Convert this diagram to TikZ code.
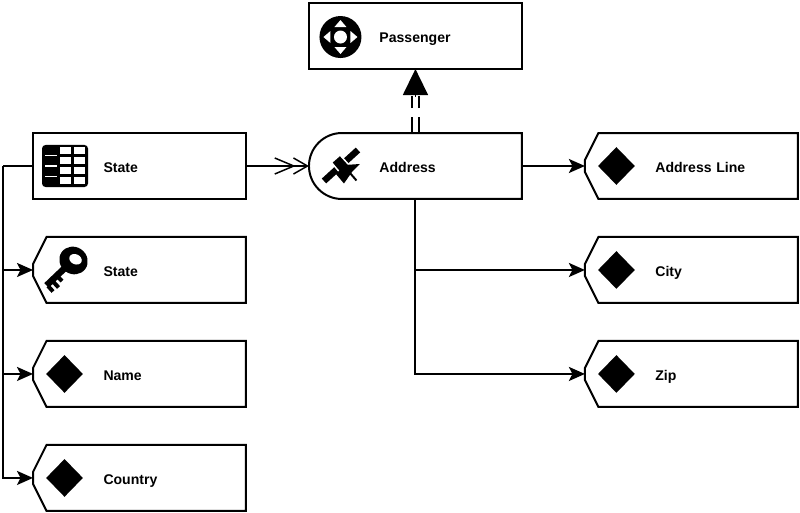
\documentclass[tikz,border=0pt]{standalone}
\usepackage{fontspec}
\setmainfont{Liberation Sans}
\usepackage{tikz}
\usetikzlibrary{positioning,arrows.meta,shapes.geometric}

\tikzset{
	keyicon/.pic={
		\fill[black, rotate around={-35:(40.5,-9.5)}] (40.5,-9.5) ellipse (14.5 and 13.5);
		\fill[white, rotate around={-25:(42.5,-10.7)}] (42.5,-10.7) ellipse (6.5 and 5);
		\draw[black, line width=0.13cm] (35,-5) -- (13.5,15.5);
		\draw[black, line width=0.08cm] (15,16) -- (20,21.5);
		\draw[black, line width=0.08cm] (20,11.5) -- (25.5,17.5);
		\draw[black, line width=0.08cm] (25,7) -- (29,11);
	},
	tableicon/.pic={
		\fill[black, rounded corners=2pt] (9,-21) rectangle (55,21);
		\foreach \rowy in {-18.7,-8.7,1.3,11.3}
			\foreach \colx in {26.5,40.5}
				\fill[white] (\colx,\rowy) rectangle ++(11,7);
		\foreach \rowy in {-10.3,0,10.3}
			\draw[white, line width=0.03cm] (12,\rowy) -- (24,\rowy);
	},
	saticon/.pic={
		\draw[black, line width=0.13cm] (15,15) -- (49,-16);
		\fill[black, draw=white, line width=0.03cm] (22.5,-3.5) -- (31,-11) -- (41,0) -- (33,9) -- cycle;
		\fill[black] (36,-1) -- (51,-2) -- (43,6) -- (35,17.5) -- (27,8) -- cycle;
		\draw[black, line width=0.04cm] (41,7) -- (47.5,14.5);
	},
	padicon/.pic={
		\fill[black] (31.5,1) circle (21);
		\fill[white] (31.5,1) circle (6.5);
		\foreach \padang in {0,90,180,270}
			\fill[white, rotate around={\padang:(31.5,1)}] (41.5,-5) -- (48.5,1) -- (41.5,7) -- cycle;
	}
}

\begin{document}
\begin{tikzpicture}[
		x=0.02cm, y=-0.02cm,
		base/.style={minimum width=4.26cm, minimum height=1.32cm, inner sep=0pt, outer sep=0pt,
					text width=4.26cm, text height=0.27cm, text depth=0pt, align=left,
					font=\fontsize{8pt}{9pt}\selectfont\bfseries,
					execute at begin node=\hspace*{1.41cm}},
		outline/.style={line width=0.04cm, black, line join=miter},
		box/.style={base, draw, line width=0.04cm},
		attr/.style={base, append after command={\pgfextra{
			\draw[outline] ([xshift=0.27cm]\tikzlastnode.north west) -- ([yshift=0.12cm]\tikzlastnode.west)
				-- ([yshift=-0.12cm]\tikzlastnode.west) -- ([xshift=0.27cm]\tikzlastnode.south west)
				-- (\tikzlastnode.south east) -- (\tikzlastnode.north east) -- cycle;}}},
		round/.style={base, append after command={\pgfextra{
			\draw[outline] (\tikzlastnode.north east) -- ([xshift=0.66cm]\tikzlastnode.north west)
				arc[start angle=90, end angle=270, radius=0.66cm]
				-- (\tikzlastnode.south east) -- cycle;}}},
		diam/.style={diamond, aspect=1, fill=black, inner sep=0pt, minimum width=0.74cm, minimum height=0.76cm},
		arrow/.style={-{Stealth[length=0.32cm, width=0.28cm, inset=0.07cm]}, line width=0.04cm},
		twohead/.style={-{Straight Barb[length=0.38cm, width=0.32cm, sep=-0.06cm]Straight Barb[length=0.28cm, width=0.32cm]}, line width=0.03cm},
		realize/.style={line width=0.035cm, dash pattern=on 0.32cm off 0.18cm},
		realizetip/.style={-{Triangle[length=0.52cm, width=0.5cm]}, line width=0.03cm, shorten <=0.72cm}
	]
		\useasboundingbox (0,0) rectangle (800,513);

		\node[box] (stateTable) at (139.5,166) {State};
		\node[attr, below=0.76cm of stateTable] (stateKey) {State};
		\node[attr, below=0.76cm of stateKey] (nameAttr) {Name};
		\node[attr, below=0.76cm of nameAttr] (countryAttr) {Country};
		\node[round, right=1.26cm of stateTable] (address) {Address};
		\node[box, above=1.28cm of address] (passenger) {Passenger};
		\node[attr, right=1.26cm of address] (addressLine) {Address Line};
		\node[attr, below=0.76cm of addressLine] (city) {City};
		\node[attr, below=0.76cm of city] (zip) {Zip};

		\node[diam] (nameDiam) at ([xshift=0.63cm]nameAttr.west) {};
		\node[diam] (countryDiam) at ([xshift=0.63cm]countryAttr.west) {};
		\node[diam] (lineDiam) at ([xshift=0.63cm]addressLine.west) {};
		\node[diam] (cityDiam) at ([xshift=0.63cm]city.west) {};
		\node[diam] (zipDiam) at ([xshift=0.63cm]zip.west) {};

		\pic at (stateTable.west) {tableicon};
		\pic at (stateKey.west) {keyicon};
		\pic at (address.west) {saticon};
		\pic at (passenger.west) {padicon};

		\coordinate[left=0.6cm of stateTable.west] (trunk);
		\coordinate[below=0.54cm of passenger.south] (tipbase);

		\draw[line width=0.04cm] (stateTable.west) -- (trunk);
		\draw[arrow] (trunk) |- (stateKey.west);
		\draw[arrow] (trunk) |- (nameAttr.west);
		\draw[arrow] (trunk) |- (countryAttr.west);
		\draw[twohead] (stateTable.east) -- (address.west);
		\draw[realize] ([xshift=-0.07cm]address.north) -- ([xshift=-0.07cm]tipbase);
		\draw[realize] ([xshift=0.07cm]address.north) -- ([xshift=0.07cm]tipbase);
		\draw[realizetip] (address.north) -- (passenger.south);
		\draw[arrow] (address.east) -- (addressLine.west);
		\draw[arrow] (address.south) |- (city.west);
		\draw[arrow] (address.south) |- (zip.west);
	\end{tikzpicture}
\end{document}
